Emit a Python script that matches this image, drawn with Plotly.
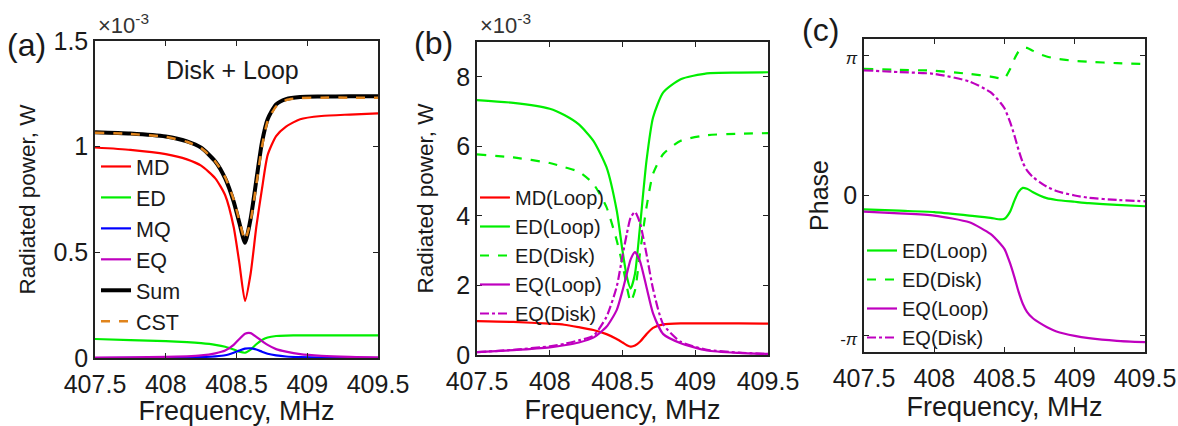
import plotly.graph_objects as go
import math

W, H = 1178, 426
FONT = "Arial, Liberation Sans, sans-serif"
TXT = "#1a1a1a"

# ---------------- Panel (a): Disk + Loop, radiated power (x1e-3 W) ----------------
freq_a = [407.5, 407.75, 408.0, 408.15, 408.25, 408.35, 408.42, 408.48, 408.52, 408.56,
          408.6, 408.64, 408.68, 408.72, 408.78, 408.85, 408.95, 409.1, 409.3, 409.5]
md_a  = [0.996, 0.985, 0.965, 0.94, 0.91, 0.85, 0.77, 0.62, 0.45, 0.27,
         0.40, 0.62, 0.80, 0.96, 1.05, 1.095, 1.13, 1.145, 1.152, 1.158]
ed_a  = [0.09, 0.085, 0.08, 0.075, 0.07, 0.062, 0.053, 0.04, 0.03, 0.025,
         0.04, 0.065, 0.085, 0.097, 0.104, 0.106, 0.107, 0.107, 0.107, 0.107]
mq_a  = [0.0, 0.0005, 0.001, 0.002, 0.004, 0.008, 0.013, 0.025, 0.035, 0.044,
         0.046, 0.04, 0.03, 0.02, 0.012, 0.007, 0.004, 0.002, 0.001, 0.0]
eq_a  = [0.002, 0.003, 0.005, 0.008, 0.012, 0.022, 0.035, 0.062, 0.09, 0.115,
         0.118, 0.10, 0.08, 0.062, 0.042, 0.03, 0.018, 0.01, 0.005, 0.003]
sum_a = [1.068, 1.062, 1.048, 1.025, 0.995, 0.93, 0.85, 0.74, 0.64, 0.545,
         0.66, 0.84, 1.02, 1.13, 1.20, 1.225, 1.235, 1.237, 1.238, 1.238]
cst_a = [1.066, 1.06, 1.046, 1.023, 0.993, 0.93, 0.855, 0.75, 0.65, 0.56,
         0.65, 0.82, 1.0, 1.12, 1.19, 1.22, 1.23, 1.232, 1.232, 1.232]

# ---------------- Panel (b): Loop / Disk contributions (x1e-3 W) ----------------
freq_b = [407.5, 407.75, 408.0, 408.1, 408.2, 408.3, 408.39, 408.46, 408.5, 408.53,
          408.556, 408.586, 408.62, 408.665, 408.71, 408.78, 408.9, 409.08, 409.3, 409.5]
md_loop_b = [0.975, 0.95, 0.9, 0.87, 0.8, 0.72, 0.6, 0.46, 0.36, 0.28,
             0.24, 0.27, 0.38, 0.6, 0.78, 0.88, 0.91, 0.91, 0.91, 0.9]
ed_loop_b = [7.33, 7.25, 7.08, 6.9, 6.63, 6.16, 5.4, 4.16, 3.0, 2.25,
             1.91, 2.34, 3.68, 5.59, 6.83, 7.55, 7.93, 8.1, 8.12, 8.13]
ed_disk_b = [5.77, 5.68, 5.52, 5.4, 5.27, 4.92, 4.25, 3.3, 2.6, 1.96,
             1.53, 1.86, 2.92, 4.25, 5.21, 5.78, 6.16, 6.32, 6.36, 6.38]
eq_loop_b = [0.08, 0.14, 0.22, 0.28, 0.36, 0.5, 0.81, 1.29, 1.85, 2.34,
             2.75, 2.96, 2.7, 1.95, 1.2, 0.6, 0.34, 0.13, 0.06, 0.03]
eq_disk_b = [0.08, 0.15, 0.25, 0.32, 0.42, 0.55, 1.1, 1.96, 2.85, 3.49,
             3.95, 4.11, 3.8, 2.9, 1.9, 0.88, 0.38, 0.15, 0.07, 0.03]

# ---------------- Panel (c): phase (rad) ----------------
freq_c = [407.5, 407.75, 408.0, 408.25, 408.4, 408.47, 408.5, 408.54, 408.57, 408.6,
          408.63, 408.66, 408.7, 408.75, 408.8, 408.87, 409.0, 409.1, 409.3, 409.5]
ed_loop_c = [-0.31, -0.34, -0.37, -0.45, -0.5, -0.535, -0.52, -0.36, -0.12, 0.08,
             0.17, 0.15, 0.08, 0.0, -0.06, -0.1, -0.14, -0.17, -0.21, -0.24]
ed_disk_c = [2.83, 2.81, 2.79, 2.72, 2.66, 2.62, 2.62, 2.83, 3.05, 3.22,
             3.3, 3.3, 3.24, 3.16, 3.11, 3.06, 3.01, 2.99, 2.96, 2.94]
eq_loop_c = [-0.36, -0.4, -0.45, -0.6, -0.86, -1.08, -1.2, -1.52, -1.82, -2.15,
             -2.42, -2.6, -2.74, -2.85, -2.94, -3.04, -3.14, -3.19, -3.25, -3.28]
eq_disk_c = [2.8, 2.76, 2.72, 2.55, 2.31, 2.08, 1.95, 1.64, 1.35, 1.02,
             0.74, 0.56, 0.42, 0.3, 0.2, 0.1, 0.0, -0.05, -0.1, -0.13]

x_ticks = [407.5, 408.0, 408.5, 409.0, 409.5]
x_tick_text = ["407.5", "408", "408.5", "409", "409.5"]

RED, GREEN, BLUE, MAG, BLACK, ORANGE = "#ff0000", "#00ee00", "#0000ff", "#bf00bf", "#000000", "#e0841c"


def px_x(p):
    return p / W


def px_y(p):
    return 1 - p / H


fig = go.Figure()


def add(x, y, name, color, xa, ya, legend, dash="solid", width=2.2):
    fig.add_trace(go.Scatter(x=x, y=y, name=name, mode="lines",
                             line=dict(color=color, width=width, dash=dash, shape="spline", smoothing=0.6),
                             xaxis=xa, yaxis=ya, legend=legend))


add(freq_a, md_a, "MD", RED, "x", "y", "legend")
add(freq_a, ed_a, "ED", GREEN, "x", "y", "legend")
add(freq_a, mq_a, "MQ", BLUE, "x", "y", "legend")
add(freq_a, eq_a, "EQ", MAG, "x", "y", "legend")
add(freq_a, sum_a, "Sum", BLACK, "x", "y", "legend", width=4)
add(freq_a, cst_a, "CST", ORANGE, "x", "y", "legend", dash="dash", width=2.5)

add(freq_b, md_loop_b, "MD(Loop)", RED, "x2", "y2", "legend2")
add(freq_b, ed_loop_b, "ED(Loop)", GREEN, "x2", "y2", "legend2")
add(freq_b, ed_disk_b, "ED(Disk)", GREEN, "x2", "y2", "legend2", dash="dash")
add(freq_b, eq_loop_b, "EQ(Loop)", MAG, "x2", "y2", "legend2")
add(freq_b, eq_disk_b, "EQ(Disk)", MAG, "x2", "y2", "legend2", dash="dashdot")

add(freq_c, ed_loop_c, "ED(Loop)", GREEN, "x3", "y3", "legend3")
add(freq_c, ed_disk_c, "ED(Disk)", GREEN, "x3", "y3", "legend3", dash="dash")
add(freq_c, eq_loop_c, "EQ(Loop)", MAG, "x3", "y3", "legend3")
add(freq_c, eq_disk_c, "EQ(Disk)", MAG, "x3", "y3", "legend3", dash="dashdot")

axis_common = dict(showline=True, linecolor="#222", linewidth=1.5, mirror="allticks",
                   ticks="inside", ticklen=5, tickwidth=1, tickcolor="#222",
                   showgrid=False, zeroline=False, automargin=False,
                   tickfont=dict(family=FONT, size=25, color=TXT))

xt = dict(title=dict(text="Frequency, MHz", font=dict(family=FONT, size=27, color=TXT), standoff=5),
          range=[407.5, 409.5], tickvals=x_ticks, ticktext=x_tick_text, ticklabelstandoff=3)

ytitle_font = dict(family=FONT, size=22.5, color=TXT)

fig.update_layout(
    template="none",
    width=W, height=H, margin=dict(l=0, r=0, t=0, b=0, pad=0),
    paper_bgcolor="white", plot_bgcolor="white", showlegend=True,
    font=dict(family=FONT, color=TXT),
    xaxis=dict(**axis_common, **xt, domain=[px_x(95), px_x(378)], anchor="y"),
    yaxis=dict(**axis_common, domain=[px_y(358), px_y(41)], anchor="x", range=[0, 1.5],
               tickvals=[0, 0.5, 1, 1.5], ticktext=["0", "0.5", "1", "1.5"],
               title=dict(text="Radiated power, W", font=ytitle_font, standoff=12)),
    xaxis2=dict(**axis_common, **xt, domain=[px_x(477), px_x(768)], anchor="y2"),
    yaxis2=dict(**axis_common, domain=[px_y(355), px_y(42)], anchor="x2", range=[0, 9],
                tickvals=[0, 2, 4, 6, 8], ticktext=["0", "2", "4", "6", "8"],
                title=dict(text="Radiated power, W", font=ytitle_font, standoff=16)),
    xaxis3=dict(**axis_common, **xt, domain=[px_x(864), px_x(1145)], anchor="y3"),
    yaxis3=dict(**axis_common, domain=[px_y(352), px_y(39)], anchor="x3", range=[-3.5, 3.5],
                tickvals=[-math.pi, 0, math.pi],
                ticktext=['<span style="font-size:17px">-<i>π</i></span>', "0",
                          '<span style="font-size:17px"><i>π</i></span>'],
                title=dict(text="Phase", font=dict(family=FONT, size=25, color=TXT), standoff=4)),
    legend=dict(x=px_x(96), y=px_y(146), xanchor="left", yanchor="top", bgcolor="rgba(0,0,0,0)",
                borderwidth=0, font=dict(family=FONT, size=21.5, color=TXT), tracegroupgap=0, itemwidth=30),
    legend2=dict(x=px_x(475), y=px_y(178), xanchor="left", yanchor="top", bgcolor="rgba(0,0,0,0)",
                 borderwidth=0, font=dict(family=FONT, size=20, color=TXT), tracegroupgap=0, itemwidth=30),
    legend3=dict(x=px_x(862), y=px_y(231), xanchor="left", yanchor="top", bgcolor="rgba(0,0,0,0)",
                 borderwidth=0, font=dict(family=FONT, size=20, color=TXT), tracegroupgap=0, itemwidth=30),
)

annots = [
    dict(text="(a)", x=px_x(26), y=px_y(45), size=32),
    dict(text="(b)", x=px_x(433), y=px_y(43), size=32),
    dict(text="(c)", x=px_x(820), y=px_y(30), size=32),
    dict(text="Disk + Loop", x=px_x(232), y=px_y(70), size=25),
]
for a in annots:
    fig.add_annotation(text=a["text"], x=a["x"], y=a["y"], xref="paper", yref="paper",
                       xanchor="center", yanchor="middle", showarrow=False,
                       font=dict(family=FONT, size=a["size"], color=TXT))
for xl in (96, 478):
    fig.add_annotation(text="×10<sup>-3</sup>", x=px_x(xl), y=px_y(40), xref="paper", yref="paper",
                       xanchor="left", yanchor="bottom", showarrow=False,
                       font=dict(family=FONT, size=22, color="#333"))

fig.write_html("out.html", config={"displayModeBar": False},
               post_script="document.body.style.margin='0';document.body.style.overflow='hidden';")
